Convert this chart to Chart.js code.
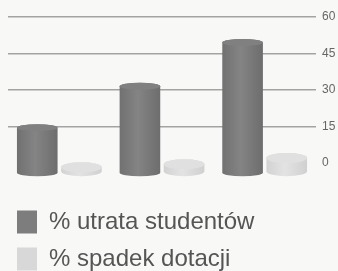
<!DOCTYPE html>
<html>
<head>
<meta charset="utf-8">
<style>
  html, body { margin: 0; padding: 0; background: #f8f8f7; overflow: hidden; }
  #wrap { width: 338px; height: 271px; overflow: hidden; }
</style>
<script src="https://cdn.jsdelivr.net/npm/chart.js@4/dist/chart.umd.min.js"></script>
</head>
<body>
<div id="wrap"><canvas id="chart" width="338" height="281"></canvas></div>
<script>
// Data
const categories = ['I', 'II', 'III'];
const seriesNames = ['% utrata studentów', '% spadek dotacji'];
const lossStudents = [16, 33, 51];
const fundingDrop = [0.3, 1.6, 4.1];
const yTicks = [0, 15, 30, 45, 60];
const FLOOR = -5;

// Greys of the scanned original
const COLORS = {
  dark:    '#7d7d7d',
  darkTop: '#808080',
  darkGrad: ['#717171', '#848484', '#6d6d6d'],
  light:    '#d8d8d8',
  lightTop: '#e0e0e0',
  lightGrad: ['#d2d2d2', '#e3e3e3', '#d0d0d0'],
  grid:  '#a3a3a3',
  text:  '#555555',
  tick:  '#666666',
};

// Draw the bars as shaded cylinders instead of flat rectangles
const cylinderPlugin = {
  id: 'cylinders',
  beforeDatasetsDraw(chart) {
    const ctx = chart.ctx;
    chart.data.datasets.forEach((ds, di) => {
      const meta = chart.getDatasetMeta(di);
      const grad = di === 0 ? COLORS.darkGrad : COLORS.lightGrad;
      const topCol = di === 0 ? COLORS.darkTop : COLORS.lightTop;
      meta.data.forEach((bar) => {
        const { x, y, base, width } = bar.getProps(['x', 'y', 'base', 'width'], true);
        const rx = width / 2, ry = di === 0 ? 3.5 : 5;
        const l = x - rx, r = x + rx;
        const topC = y + ry;
        const botC = Math.max(base - ry + 1, topC);
        const g = ctx.createLinearGradient(l, 0, r, 0);
        g.addColorStop(0, grad[0]);
        g.addColorStop(0.45, grad[1]);
        g.addColorStop(1, grad[2]);
        ctx.save();
        ctx.beginPath();
        ctx.moveTo(l, topC);
        ctx.lineTo(l, botC);
        ctx.ellipse(x, botC, rx, ry, 0, Math.PI, 0, true);
        ctx.lineTo(r, topC);
        ctx.ellipse(x, topC, rx, ry, 0, 0, Math.PI, true);
        ctx.closePath();
        ctx.fillStyle = g;
        ctx.fill();
        ctx.beginPath();
        ctx.ellipse(x, topC, rx, ry, 0, 0, Math.PI * 2);
        ctx.fillStyle = topCol;
        ctx.fill();
        ctx.restore();
      });
    });
    return false;
  }
};

new Chart(document.getElementById('chart'), {
  type: 'bar',
  data: {
    labels: categories,
    datasets: [
      {
        label: seriesNames[0],
        data: lossStudents,
        yAxisID: 'y',
        backgroundColor: COLORS.dark,
        borderWidth: 0,
        base: FLOOR,
      },
      {
        label: seriesNames[1],
        data: fundingDrop,
        yAxisID: 'y',
        backgroundColor: COLORS.light,
        borderWidth: 0,
        base: FLOOR,
      }
    ]
  },
  options: {
    responsive: false,
    animation: false,
    categoryPercentage: 0.86,
    barPercentage: 0.92,
    layout: { padding: { top: 17, left: 4, right: 0, bottom: 0 } },
    plugins: {
      tooltip: { enabled: false },
      legend: {
        position: 'bottom',
        align: 'start',
        labels: {
          boxWidth: 20,
          boxHeight: 23,
          padding: 13,
          color: COLORS.text,
          font: { family: "'Liberation Sans', Arial, sans-serif", size: 24 },
        }
      }
    },
    scales: {
      x: {
        ticks: { display: false },
        grid: { display: false },
        border: { display: false },
        afterFit: (s) => { s.height = 21; },
      },
      y: {
        position: 'right',
        min: -5.3,
        max: 60,
        afterBuildTicks: (s) => { s.ticks = yTicks.map((v) => ({ value: v })); },
        afterFit: (s) => { s.width = 22; },
        ticks: {
          padding: 6,
          color: COLORS.tick,
          font: { family: "'Liberation Sans', Arial, sans-serif", size: 12 },
        },
        grid: {
          drawTicks: false,
          lineWidth: 1.5,
          color: (ctx) => (ctx.tick && ctx.tick.value > 0 ? COLORS.grid : 'transparent'),
        },
        border: { display: false },
      },
      // empty spacer on the left so the bars sit where the original has them
      yLeft: {
        position: 'left',
        ticks: { display: false },
        grid: { display: false },
        border: { display: false },
        afterFit: (s) => { s.width = 4; },
      }
    }
  },
  plugins: [cylinderPlugin]
});
</script>
</body>
</html>
